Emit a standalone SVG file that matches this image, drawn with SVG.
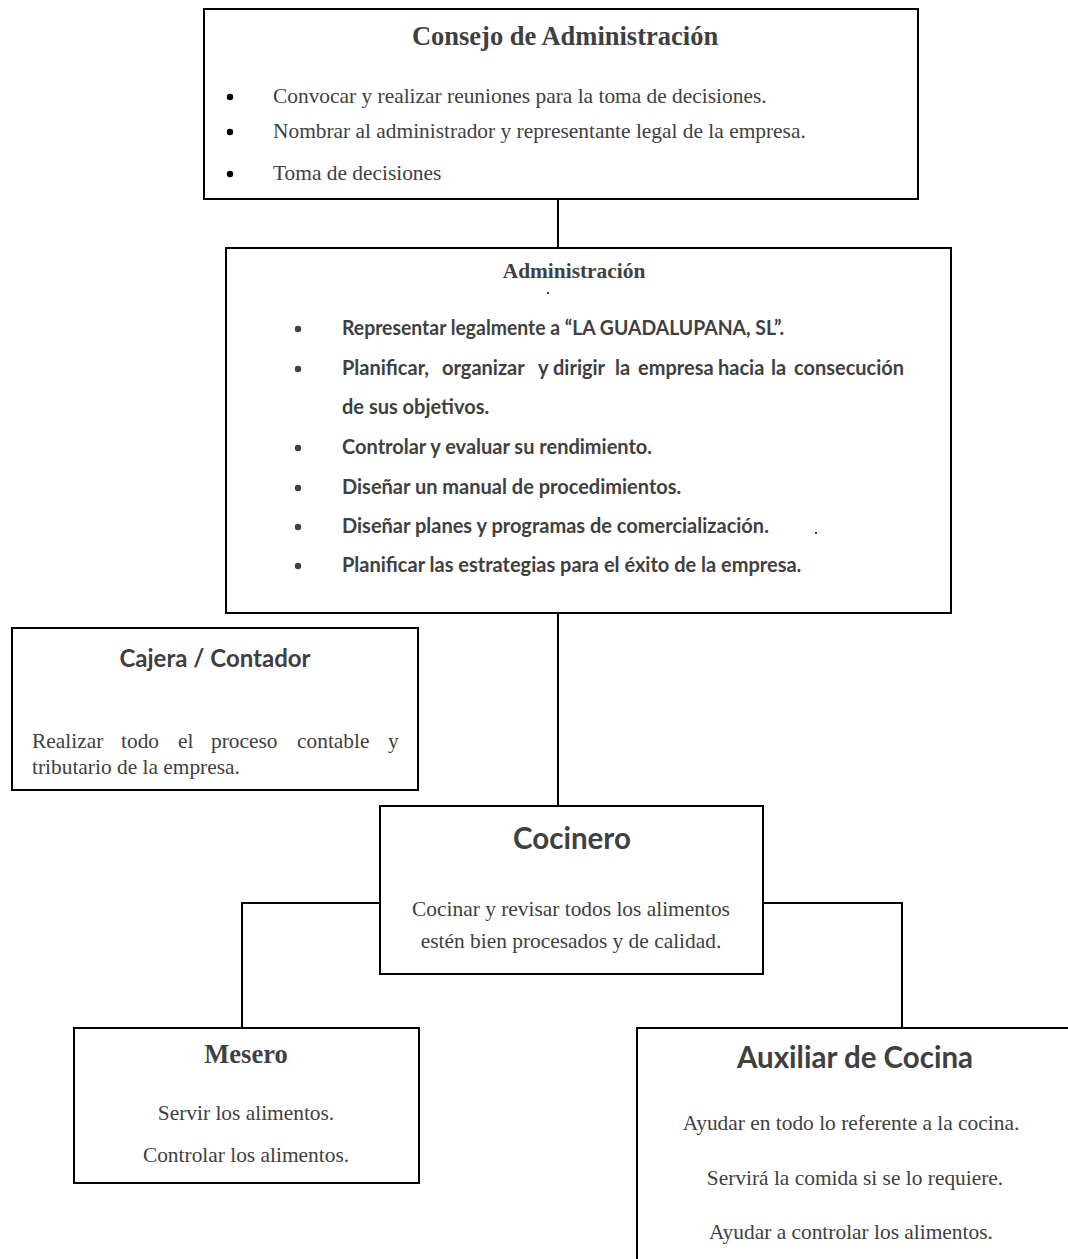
<svg xmlns="http://www.w3.org/2000/svg" width="1068" height="1259" viewBox="0 0 1068 1259">
<style>
.box{fill:#fff;stroke:#000;stroke-width:2}
.conn{fill:none;stroke:#000;stroke-width:2}
.serif{font-family:"Liberation Serif","Times New Roman",serif;fill:#404040;font-size:21.4px}
.sans{font-family:"Lato","Liberation Sans",sans-serif;fill:#404040;font-weight:bold}
.st{font-weight:bold}
.c{text-anchor:middle}
.dot{fill:#000}
.ab{font-size:20px}
</style>
<rect width="1068" height="1259" fill="#fff"/>
<g id="connectors">
<line class="conn" x1="558" y1="199" x2="558" y2="248"/>
<line class="conn" x1="558" y1="613" x2="558" y2="806"/>
<polyline class="conn" points="380,903 242,903 242,1028"/>
<polyline class="conn" points="763,903 902,903 902,1028"/>
</g>
<g id="consejo">
<rect class="box" x="204" y="9" width="714" height="190"/>
<text class="serif st c" x="565" y="45" style="font-size:26.5px">Consejo de Administración</text>
<circle class="dot" cx="230" cy="97" r="3.2"/>
<circle class="dot" cx="230" cy="132" r="3.2"/>
<circle class="dot" cx="230" cy="174" r="3.2"/>
<text class="serif" x="273" y="103">Convocar y realizar reuniones para la toma de decisiones.</text>
<text class="serif" x="273" y="138">Nombrar al administrador y representante legal de la empresa.</text>
<text class="serif" x="273" y="180">Toma de decisiones</text>
</g>
<g id="administracion">
<rect class="box" x="226" y="248" width="725" height="365"/>
<text class="serif st c" x="574" y="278">Administración</text>
<circle class="dot" cx="548" cy="293" r="1"/>
<g fill="#404040">
<circle cx="298" cy="329" r="3.2"/>
<circle cx="298" cy="369" r="3.2"/>
<circle cx="298" cy="448" r="3.2"/>
<circle cx="298" cy="488" r="3.2"/>
<circle cx="298" cy="527" r="3.2"/>
<circle cx="298" cy="566" r="3.2"/>
</g>
<text class="sans ab" x="342" y="335" textLength="442" lengthAdjust="spacingAndGlyphs">Representar legalmente a “LA GUADALUPANA, SL”.</text>
<text class="sans ab" y="375"><tspan x="342">Planificar,</tspan><tspan x="442">organizar</tspan><tspan x="538">y</tspan><tspan x="553">dirigir</tspan><tspan x="615">la</tspan><tspan x="638">empresa</tspan><tspan x="718">hacia</tspan><tspan x="771">la</tspan><tspan x="794">consecución</tspan></text>
<text class="sans ab" x="342" y="414">de sus objetivos.</text>
<text class="sans ab" x="342" y="454">Controlar y evaluar su rendimiento.</text>
<text class="sans ab" x="342" y="494">Diseñar un manual de procedimientos.</text>
<text class="sans ab" x="342" y="533">Diseñar planes y programas de comercialización.</text>
<circle class="dot" cx="816" cy="533" r="1"/>
<text class="sans ab" x="342" y="572">Planificar las estrategias para el éxito de la empresa.</text>
</g>
<g id="cajera">
<rect class="box" x="12" y="628" width="406" height="162"/>
<text class="sans c" x="215" y="667" font-size="24">Cajera / Contador</text>
<text class="serif" y="748"><tspan x="32">Realizar</tspan><tspan x="121">todo</tspan><tspan x="178">el</tspan><tspan x="211">proceso</tspan><tspan x="297">contable</tspan><tspan x="388">y</tspan></text>
<text class="serif" x="32" y="774">tributario de la empresa.</text>
</g>
<g id="cocinero">
<rect class="box" x="380" y="806" width="383" height="168"/>
<text class="sans c" x="572" y="849" font-size="29.5">Cocinero</text>
<text class="serif c" x="571" y="916">Cocinar y revisar todos los alimentos</text>
<text class="serif c" x="571" y="948">estén bien procesados y de calidad.</text>
</g>
<g id="mesero">
<rect class="box" x="74" y="1028" width="345" height="155"/>
<text class="serif st c" x="246" y="1063" style="font-size:26.5px">Mesero</text>
<text class="serif c" x="246" y="1120">Servir los alimentos.</text>
<text class="serif c" x="246" y="1162">Controlar los alimentos.</text>
</g>
<g id="auxiliar">
<rect class="box" x="637" y="1028" width="440" height="240"/>
<text class="sans c" x="855" y="1068" font-size="29.5">Auxiliar de Cocina</text>
<text class="serif c" x="851" y="1130">Ayudar en todo lo referente a la cocina.</text>
<text class="serif c" x="855" y="1185">Servirá la comida si se lo requiere.</text>
<text class="serif c" x="851" y="1239">Ayudar a controlar los alimentos.</text>
</g>
</svg>
